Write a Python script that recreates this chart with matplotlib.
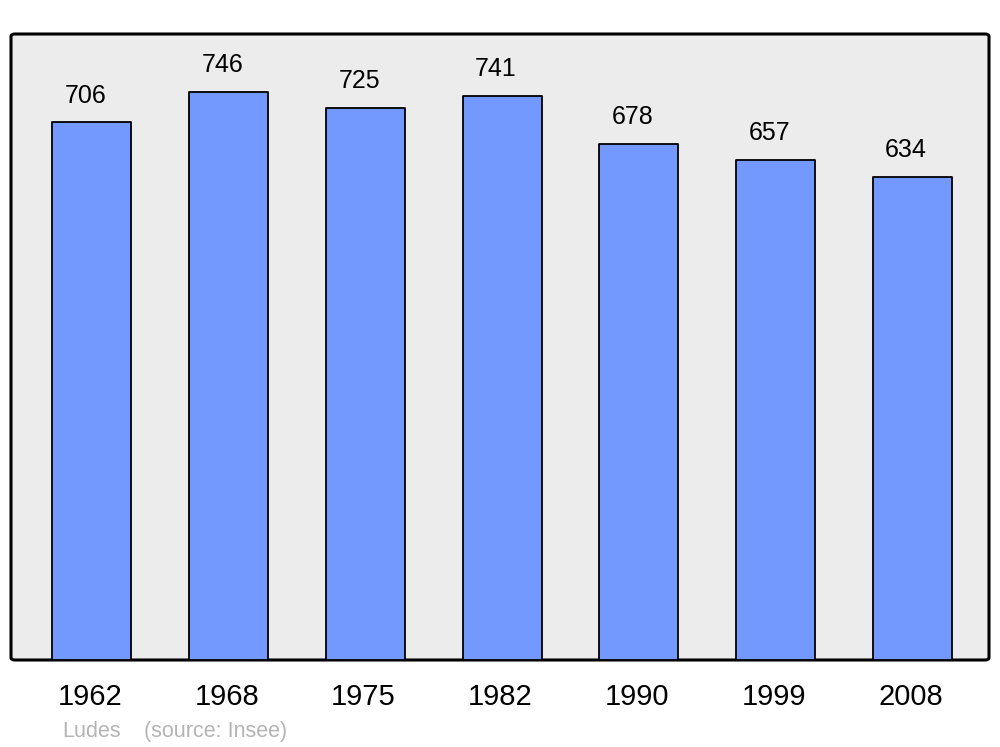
import matplotlib
matplotlib.use("Agg")
import matplotlib.pyplot as plt
from matplotlib.patches import FancyBboxPatch

plt.rcParams['font.family'] = ['Liberation Sans', 'DejaVu Sans']

# data
years = ['1962', '1968', '1975', '1982', '1990', '1999', '2008']
population = [706, 746, 725, 741, 678, 657, 634]
commune = 'Ludes'
source = '(source: Insee)'

fig = plt.figure(figsize=(10, 7.47), dpi=100)
ax = fig.add_axes([11 / 1000, 87 / 747, 978 / 1000, 626 / 747])
ax.set_facecolor('none')
for s in ax.spines.values():
    s.set_visible(False)

# background frame with rounded corners
frame = FancyBboxPatch((0, 0), 1, 1, boxstyle='round,pad=0,rounding_size=0.004',
                       transform=ax.transAxes, facecolor='#ececec', edgecolor='black',
                       linewidth=2.2, zorder=0, clip_on=False)
ax.add_patch(frame)

x = list(range(len(years)))
bars = ax.bar(x, population, width=0.578, color='#7399ff', edgecolor='black',
              linewidth=1.3, zorder=2)
for b in bars:
    b.set_joinstyle('round')

for xi, v in zip(x, population):
    # value labels sit a little left of the bar centre, as in the original
    ax.annotate(str(v), (xi, v), xytext=(-4.5, 19.3), textcoords='offset points',
                ha='center', va='center', fontsize=18)
    ax.annotate(years[xi], (xi, 0), xytext=(-1.4, -26.5), textcoords='offset points',
                ha='center', va='center', fontsize=21, annotation_clip=False)

ax.set_xlim(-0.592, 6.56)
ax.set_ylim(0, 822)
ax.set_xticks([])
ax.set_yticks([])

# footer, both parts on the same baseline
fig.text(62 / 1000, 1 - 737 / 747, commune, color='#b4b4b4', fontsize=15.5, va='baseline')
fig.text(144 / 1000, 1 - 737 / 747, source, color='#b4b4b4', fontsize=15.5, va='baseline')

fig.savefig('out.png', dpi=100)
